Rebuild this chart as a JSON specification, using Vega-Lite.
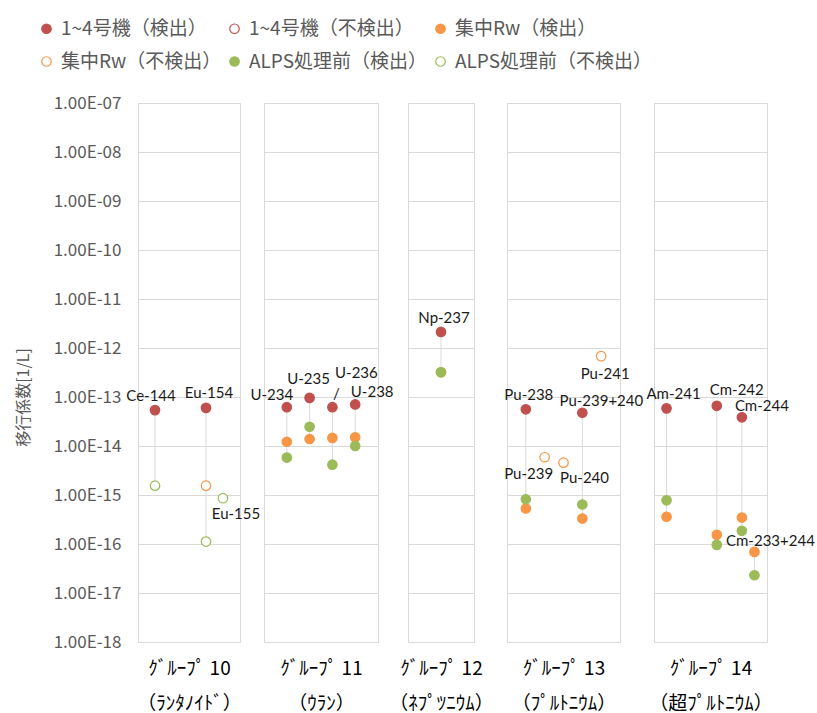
{
  "$schema": "https://vega.github.io/schema/vega-lite/v6.json",
  "background": "white",
  "padding": {"left": 14, "top": 19, "right": 0, "bottom": 0},
  "config": {
    "view": {"stroke": "#d9d9d9", "strokeWidth": 1},
    "axisX": {"labels": false, "ticks": false, "domain": false, "grid": false, "titleFont": "Noto Sans CJK JP", "titleFontSize": 19, "titleFontWeight": "normal", "titleColor": "#000000", "titlePadding": 17, "titleLineHeight": 35},
    "axisY": {"ticks": false, "domain": false, "grid": true, "gridColor": "#d9d9d9", "gridWidth": 1}
  },
  "data": {"values": [
    {"g": 10, "nuclide": "Ce-144", "x": 1, "series": "1~4号機（検出）", "value": 5.4e-14, "label": "Ce-144"},
    {"g": 10, "nuclide": "Ce-144", "x": 1, "series": "ALPS処理前（不検出）", "value": 1.55e-15},
    {"g": 10, "nuclide": "Eu-154", "x": 4, "series": "1~4号機（検出）", "value": 6.0e-14, "label": "Eu-154"},
    {"g": 10, "nuclide": "Eu-154", "x": 4, "series": "集中Rw（不検出）", "value": 1.55e-15},
    {"g": 10, "nuclide": "Eu-154", "x": 4, "series": "ALPS処理前（不検出）", "value": 1.12e-16},
    {"g": 10, "nuclide": "Eu-155", "x": 5, "series": "ALPS処理前（不検出）", "value": 8.6e-16, "label": "Eu-155"},
    {"g": 11, "nuclide": "U-234", "x": 1, "series": "1~4号機（検出）", "value": 6.2e-14, "label": "U-234"},
    {"g": 11, "nuclide": "U-234", "x": 1, "series": "集中Rw（検出）", "value": 1.22e-14},
    {"g": 11, "nuclide": "U-234", "x": 1, "series": "ALPS処理前（検出）", "value": 5.8e-15},
    {"g": 11, "nuclide": "U-235", "x": 2, "series": "1~4号機（検出）", "value": 9.6e-14, "label": "U-235"},
    {"g": 11, "nuclide": "U-235", "x": 2, "series": "集中Rw（検出）", "value": 1.39e-14},
    {"g": 11, "nuclide": "U-235", "x": 2, "series": "ALPS処理前（検出）", "value": 2.47e-14},
    {"g": 11, "nuclide": "U-236", "x": 3, "series": "1~4号機（検出）", "value": 6.2e-14, "label": "U-236"},
    {"g": 11, "nuclide": "U-236", "x": 3, "series": "集中Rw（検出）", "value": 1.46e-14},
    {"g": 11, "nuclide": "U-236", "x": 3, "series": "ALPS処理前（検出）", "value": 4.16e-15},
    {"g": 11, "nuclide": "U-238", "x": 4, "series": "1~4号機（検出）", "value": 7.06e-14, "label": "U-238"},
    {"g": 11, "nuclide": "U-238", "x": 4, "series": "集中Rw（検出）", "value": 1.5e-14},
    {"g": 11, "nuclide": "U-238", "x": 4, "series": "ALPS処理前（検出）", "value": 1.0e-14},
    {"g": 12, "nuclide": "Np-237", "x": 1, "series": "1~4号機（検出）", "value": 2.13e-12, "label": "Np-237"},
    {"g": 12, "nuclide": "Np-237", "x": 1, "series": "集中Rw（検出）", "value": 3.2e-13},
    {"g": 12, "nuclide": "Np-237", "x": 1, "series": "ALPS処理前（検出）", "value": 3.2e-13},
    {"g": 13, "nuclide": "Pu-238", "x": 1, "series": "1~4号機（検出）", "value": 5.6e-14, "label": "Pu-238"},
    {"g": 13, "nuclide": "Pu-238", "x": 1, "series": "集中Rw（検出）", "value": 5.3e-16},
    {"g": 13, "nuclide": "Pu-238", "x": 1, "series": "ALPS処理前（検出）", "value": 8.2e-16},
    {"g": 13, "nuclide": "Pu-239", "x": 2, "series": "集中Rw（不検出）", "value": 5.9e-15, "label": "Pu-239"},
    {"g": 13, "nuclide": "Pu-240", "x": 3, "series": "集中Rw（不検出）", "value": 4.57e-15, "label": "Pu-240"},
    {"g": 13, "nuclide": "Pu-239+240", "x": 4, "series": "1~4号機（検出）", "value": 4.77e-14, "label": "Pu-239+240"},
    {"g": 13, "nuclide": "Pu-239+240", "x": 4, "series": "集中Rw（検出）", "value": 3.3e-16},
    {"g": 13, "nuclide": "Pu-239+240", "x": 4, "series": "ALPS処理前（検出）", "value": 6.4e-16},
    {"g": 13, "nuclide": "Pu-241", "x": 5, "series": "集中Rw（不検出）", "value": 6.8e-13, "label": "Pu-241"},
    {"g": 14, "nuclide": "Am-241", "x": 1, "series": "1~4号機（検出）", "value": 5.86e-14, "label": "Am-241"},
    {"g": 14, "nuclide": "Am-241", "x": 1, "series": "集中Rw（検出）", "value": 3.6e-16},
    {"g": 14, "nuclide": "Am-241", "x": 1, "series": "ALPS処理前（検出）", "value": 7.8e-16},
    {"g": 14, "nuclide": "Cm-242", "x": 5, "series": "1~4号機（検出）", "value": 6.6e-14, "label": "Cm-242"},
    {"g": 14, "nuclide": "Cm-242", "x": 5, "series": "集中Rw（検出）", "value": 1.54e-16},
    {"g": 14, "nuclide": "Cm-242", "x": 5, "series": "ALPS処理前（検出）", "value": 9.6e-17},
    {"g": 14, "nuclide": "Cm-244", "x": 7, "series": "1~4号機（検出）", "value": 3.85e-14, "label": "Cm-244"},
    {"g": 14, "nuclide": "Cm-244", "x": 7, "series": "集中Rw（検出）", "value": 3.46e-16},
    {"g": 14, "nuclide": "Cm-244", "x": 7, "series": "ALPS処理前（検出）", "value": 1.86e-16},
    {"g": 14, "nuclide": "Cm-233+244", "x": 8, "series": "集中Rw（検出）", "value": 6.9e-17, "label": "Cm-233+244"},
    {"g": 14, "nuclide": "Cm-233+244", "x": 8, "series": "ALPS処理前（検出）", "value": 2.3e-17}
  ]},
  "resolve": {"scale": {"x": "independent"}},
  "bounds": "flush",
  "spacing": 24,
  "hconcat": [
    {
      "width": 102, "height": 539,
      "transform": [{"filter": "datum.g == 10"}],
      "encoding": {
        "x": {"field": "x", "type": "quantitative", "scale": {"domain": [0, 6], "nice": false, "zero": false}, "axis": {"title": ["ｸﾞﾙｰﾌﾟ 10", "（ﾗﾝﾀﾉｲﾄﾞ）"]}},
        "y": {"field": "value", "type": "quantitative", "scale": {"type": "log", "domain": [1e-18, 1e-7], "nice": false},
          "axis": {"values": [1e-18, 1e-17, 1e-16, 1e-15, 1e-14, 1e-13, 1e-12, 1e-11, 1e-10, 1e-9, 1e-8, 1e-7],
            "labelExpr": "'1.00E-' + (round(-log(datum.value)/LN10) < 10 ? '0' : '') + round(-log(datum.value)/LN10)",
            "labelFont": "Noto Sans CJK JP", "labelFontSize": 17, "labelColor": "#595959", "labelPadding": 17,
            "title": "移行係数[1/L]", "titleFont": "Noto Sans CJK JP", "titleFontSize": 16, "titleFontWeight": "normal", "titleColor": "#595959",
            "titleX": -115, "titleY": 294, "titleAngle": -90, "titleBaseline": "middle", "titleAlign": "center"}}
      },
      "layer": [
        {"mark": {"type": "rule", "color": "#d9d9d9", "strokeWidth": 1},
         "encoding": {"y": {"aggregate": "min", "field": "value", "type": "quantitative", "title": "移行係数[1/L]"}, "y2": {"aggregate": "max", "field": "value"}}},
        {"mark": {"type": "point", "shape": "circle", "size": 90, "strokeWidth": 1.2, "opacity": 1, "filled": true},
         "encoding": {
           "fill": {"field": "series", "type": "nominal", "scale": {"domain": ["1~4号機（検出）", "1~4号機（不検出）", "集中Rw（検出）", "集中Rw（不検出）", "ALPS処理前（検出）", "ALPS処理前（不検出）"], "range": ["#C0504D", "#ffffff", "#F79646", "#ffffff", "#9BBB59", "#ffffff"]},
             "legend": {"title": null, "orient": "none", "direction": "horizontal", "legendX": -101, "legendY": -84, "columns": 3, "symbolType": "circle", "symbolSize": 90, "symbolStrokeWidth": 1.2, "labelFont": "Noto Sans CJK JP", "labelFontSize": 19, "labelLimit": 400, "labelColor": "#595959", "labelOffset": 5, "columnPadding": 3, "rowPadding": 13}},
           "stroke": {"field": "series", "type": "nominal", "scale": {"domain": ["1~4号機（検出）", "1~4号機（不検出）", "集中Rw（検出）", "集中Rw（不検出）", "ALPS処理前（検出）", "ALPS処理前（不検出）"], "range": ["#C0504D", "#C0504D", "#F79646", "#F79646", "#9BBB59", "#9BBB59"]},
             "legend": {"title": null, "orient": "none", "direction": "horizontal", "legendX": -101, "legendY": -84, "columns": 3, "symbolType": "circle", "symbolSize": 90, "symbolStrokeWidth": 1.2, "labelFont": "Noto Sans CJK JP", "labelFontSize": 19, "labelLimit": 400, "labelColor": "#595959", "labelOffset": 5, "columnPadding": 3, "rowPadding": 13}}
         }},
        {"transform": [{"filter": {"field": "label", "oneOf": ["Eu-154"]}}], "mark": {"type": "text", "dx": 3, "dy": -15, "font": "Lato", "fontSize": 15, "color": "#1a1a1a", "baseline": "middle", "align": "center"}, "encoding": {"text": {"field": "label"}}},
        {"transform": [{"filter": {"field": "label", "oneOf": ["Ce-144"]}}], "mark": {"type": "text", "dx": -4, "dy": -14, "font": "Lato", "fontSize": 15, "color": "#1a1a1a", "baseline": "middle", "align": "center"}, "encoding": {"text": {"field": "label"}}},
        {"transform": [{"filter": {"field": "label", "oneOf": ["Eu-155"]}}], "mark": {"type": "text", "dx": 13, "dy": 16, "font": "Lato", "fontSize": 15, "color": "#1a1a1a", "baseline": "middle", "align": "center"}, "encoding": {"text": {"field": "label"}}}
      ]
    },
    {
      "bounds": "flush",
      "spacing": 30,
      "resolve": {"scale": {"x": "independent"}},
      "hconcat": [
        {
          "width": 114, "height": 539,
          "transform": [{"filter": "datum.g == 11"}],
          "encoding": {
            "x": {"field": "x", "type": "quantitative", "scale": {"domain": [0, 5], "nice": false, "zero": false}, "axis": {"title": ["ｸﾞﾙｰﾌﾟ 11", "（ｳﾗﾝ）"]}},
            "y": {"field": "value", "type": "quantitative", "scale": {"type": "log", "domain": [1e-18, 1e-7], "nice": false},
              "axis": {"values": [1e-18, 1e-17, 1e-16, 1e-15, 1e-14, 1e-13, 1e-12, 1e-11, 1e-10, 1e-9, 1e-8, 1e-7], "labels": false, "title": null}}
          },
          "layer": [
            {"mark": {"type": "rule", "color": "#d9d9d9", "strokeWidth": 1},
             "encoding": {"y": {"aggregate": "min", "field": "value", "type": "quantitative", "title": null}, "y2": {"aggregate": "max", "field": "value"}}},
            {"mark": {"type": "point", "shape": "circle", "size": 90, "strokeWidth": 1.2, "opacity": 1, "filled": true},
             "encoding": {"fill": {"field": "series", "type": "nominal"}, "stroke": {"field": "series", "type": "nominal"}}},
            {"transform": [{"filter": {"field": "label", "oneOf": ["U-234"]}}], "mark": {"type": "text", "dx": -15, "dy": -12, "font": "Lato", "fontSize": 15, "color": "#1a1a1a", "baseline": "middle", "align": "center"}, "encoding": {"text": {"field": "label"}}},
            {"transform": [{"filter": {"field": "label", "oneOf": ["U-235"]}}], "mark": {"type": "text", "dx": -1, "dy": -19, "font": "Lato", "fontSize": 15, "color": "#1a1a1a", "baseline": "middle", "align": "center"}, "encoding": {"text": {"field": "label"}}},
            {"transform": [{"filter": {"field": "label", "oneOf": ["U-236"]}}], "mark": {"type": "text", "dx": 24, "dy": -34, "font": "Lato", "fontSize": 15, "color": "#1a1a1a", "baseline": "middle", "align": "center"}, "encoding": {"text": {"field": "label"}}},
            {"transform": [{"filter": {"field": "label", "oneOf": ["U-236"]}}], "mark": {"type": "text", "dx": 4, "dy": -13, "font": "Lato", "fontSize": 15, "color": "#1a1a1a", "baseline": "middle", "align": "center"}, "encoding": {"text": {"value": "/"}}},
            {"transform": [{"filter": {"field": "label", "oneOf": ["U-238"]}}], "mark": {"type": "text", "dx": 17, "dy": -12, "font": "Lato", "fontSize": 15, "color": "#1a1a1a", "baseline": "middle", "align": "center"}, "encoding": {"text": {"field": "label"}}}
          ]
        },
        {
          "bounds": "flush",
          "spacing": 33,
          "resolve": {"scale": {"x": "independent"}},
          "hconcat": [
            {
              "width": 66, "height": 539,
              "transform": [{"filter": "datum.g == 12"}],
              "encoding": {
                "x": {"field": "x", "type": "quantitative", "scale": {"domain": [0, 2], "nice": false, "zero": false}, "axis": {"title": ["ｸﾞﾙｰﾌﾟ 12", "（ﾈﾌﾟﾂﾆｳﾑ）"]}},
                "y": {"field": "value", "type": "quantitative", "scale": {"type": "log", "domain": [1e-18, 1e-7], "nice": false},
                  "axis": {"values": [1e-18, 1e-17, 1e-16, 1e-15, 1e-14, 1e-13, 1e-12, 1e-11, 1e-10, 1e-9, 1e-8, 1e-7], "labels": false, "title": null}}
              },
              "layer": [
                {"mark": {"type": "rule", "color": "#d9d9d9", "strokeWidth": 1},
                 "encoding": {"y": {"aggregate": "min", "field": "value", "type": "quantitative", "title": null}, "y2": {"aggregate": "max", "field": "value"}}},
                {"mark": {"type": "point", "shape": "circle", "size": 90, "strokeWidth": 1.2, "opacity": 1, "filled": true},
                 "encoding": {"fill": {"field": "series", "type": "nominal"}, "stroke": {"field": "series", "type": "nominal"}}},
                {"transform": [{"filter": {"field": "label", "oneOf": ["Np-237"]}}], "mark": {"type": "text", "dx": 3, "dy": -14, "font": "Lato", "fontSize": 15, "color": "#1a1a1a", "baseline": "middle", "align": "center"}, "encoding": {"text": {"field": "label"}}}
              ]
            },
            {
              "bounds": "flush",
              "spacing": 34,
              "resolve": {"scale": {"x": "independent"}},
              "hconcat": [
                {
                  "width": 113, "height": 539,
                  "transform": [{"filter": "datum.g == 13"}],
                  "encoding": {
                    "x": {"field": "x", "type": "quantitative", "scale": {"domain": [0, 6], "nice": false, "zero": false}, "axis": {"title": ["ｸﾞﾙｰﾌﾟ 13", "（ﾌﾟﾙﾄﾆｳﾑ）"]}},
                    "y": {"field": "value", "type": "quantitative", "scale": {"type": "log", "domain": [1e-18, 1e-7], "nice": false},
                      "axis": {"values": [1e-18, 1e-17, 1e-16, 1e-15, 1e-14, 1e-13, 1e-12, 1e-11, 1e-10, 1e-9, 1e-8, 1e-7], "labels": false, "title": null}}
                  },
                  "layer": [
                    {"mark": {"type": "rule", "color": "#d9d9d9", "strokeWidth": 1},
                     "encoding": {"y": {"aggregate": "min", "field": "value", "type": "quantitative", "title": null}, "y2": {"aggregate": "max", "field": "value"}}},
                    {"mark": {"type": "point", "shape": "circle", "size": 90, "strokeWidth": 1.2, "opacity": 1, "filled": true},
                     "encoding": {"fill": {"field": "series", "type": "nominal"}, "stroke": {"field": "series", "type": "nominal"}}},
                    {"transform": [{"filter": {"field": "label", "oneOf": ["Pu-238"]}}], "mark": {"type": "text", "dx": 3, "dy": -14, "font": "Lato", "fontSize": 15, "color": "#1a1a1a", "baseline": "middle", "align": "center"}, "encoding": {"text": {"field": "label"}}},
                    {"transform": [{"filter": {"field": "label", "oneOf": ["Pu-239+240"]}}], "mark": {"type": "text", "dx": 19, "dy": -12, "font": "Lato", "fontSize": 15, "color": "#1a1a1a", "baseline": "middle", "align": "center"}, "encoding": {"text": {"field": "label"}}},
                    {"transform": [{"filter": {"field": "label", "oneOf": ["Pu-241"]}}], "mark": {"type": "text", "dx": 4, "dy": 18, "font": "Lato", "fontSize": 15, "color": "#1a1a1a", "baseline": "middle", "align": "center"}, "encoding": {"text": {"field": "label"}}},
                    {"transform": [{"filter": {"field": "label", "oneOf": ["Pu-239"]}}], "mark": {"type": "text", "dx": -16, "dy": 17, "font": "Lato", "fontSize": 15, "color": "#1a1a1a", "baseline": "middle", "align": "center"}, "encoding": {"text": {"field": "label"}}},
                    {"transform": [{"filter": {"field": "label", "oneOf": ["Pu-240"]}}], "mark": {"type": "text", "dx": 21, "dy": 15, "font": "Lato", "fontSize": 15, "color": "#1a1a1a", "baseline": "middle", "align": "center"}, "encoding": {"text": {"field": "label"}}}
                  ]
                },
                {
                  "width": 113, "height": 539,
                  "transform": [{"filter": "datum.g == 14"}],
                  "encoding": {
                    "x": {"field": "x", "type": "quantitative", "scale": {"domain": [0, 9], "nice": false, "zero": false}, "axis": {"title": ["ｸﾞﾙｰﾌﾟ 14", "（超ﾌﾟﾙﾄﾆｳﾑ）"]}},
                    "y": {"field": "value", "type": "quantitative", "scale": {"type": "log", "domain": [1e-18, 1e-7], "nice": false},
                      "axis": {"values": [1e-18, 1e-17, 1e-16, 1e-15, 1e-14, 1e-13, 1e-12, 1e-11, 1e-10, 1e-9, 1e-8, 1e-7], "labels": false, "title": null}}
                  },
                  "layer": [
                    {"mark": {"type": "rule", "color": "#d9d9d9", "strokeWidth": 1},
                     "encoding": {"y": {"aggregate": "min", "field": "value", "type": "quantitative", "title": null}, "y2": {"aggregate": "max", "field": "value"}}},
                    {"mark": {"type": "point", "shape": "circle", "size": 90, "strokeWidth": 1.2, "opacity": 1, "filled": true},
                     "encoding": {"fill": {"field": "series", "type": "nominal"}, "stroke": {"field": "series", "type": "nominal"}}},
                    {"transform": [{"filter": {"field": "label", "oneOf": ["Am-241"]}}], "mark": {"type": "text", "dx": 7, "dy": -14, "font": "Lato", "fontSize": 15, "color": "#1a1a1a", "baseline": "middle", "align": "center"}, "encoding": {"text": {"field": "label"}}},
                    {"transform": [{"filter": {"field": "label", "oneOf": ["Cm-242"]}}], "mark": {"type": "text", "dx": 20, "dy": -16, "font": "Lato", "fontSize": 15, "color": "#1a1a1a", "baseline": "middle", "align": "center"}, "encoding": {"text": {"field": "label"}}},
                    {"transform": [{"filter": {"field": "label", "oneOf": ["Cm-244"]}}], "mark": {"type": "text", "dx": 20, "dy": -11, "font": "Lato", "fontSize": 15, "color": "#1a1a1a", "baseline": "middle", "align": "center"}, "encoding": {"text": {"field": "label"}}},
                    {"transform": [{"filter": {"field": "label", "oneOf": ["Cm-233+244"]}}], "mark": {"type": "text", "dx": 16, "dy": -11, "font": "Lato", "fontSize": 15, "color": "#1a1a1a", "baseline": "middle", "align": "center"}, "encoding": {"text": {"field": "label"}}}
                  ]
                }
              ]
            }
          ]
        }
      ]
    }
  ]
}
